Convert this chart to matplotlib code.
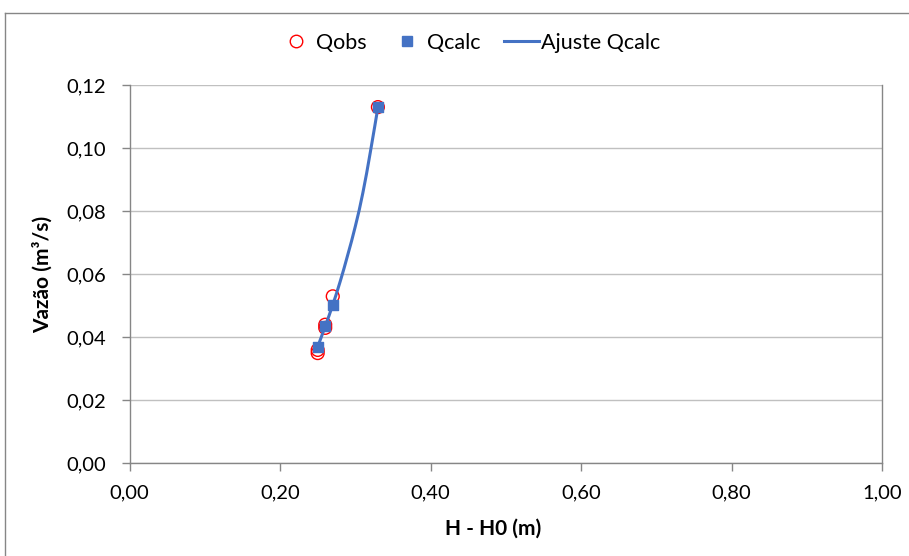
import matplotlib.pyplot as plt
from matplotlib.path import Path
from matplotlib.patches import PathPatch
from matplotlib.lines import Line2D
from matplotlib.ticker import FuncFormatter

plt.rcParams['font.family'] = ['Lato', 'DejaVu Sans']

# leituras de campo
h_obs = [0.25, 0.25, 0.26, 0.26, 0.27, 0.33]
q_obs = [0.035, 0.036, 0.043, 0.044, 0.053, 0.113]
# vazao calculada pela curva-chave
h_calc = [0.25, 0.26, 0.27, 0.33]
q_calc = [0.037, 0.0436, 0.0503, 0.1129]
# curva ajustada aos valores calculados
h_ajuste = [0.25, 0.26, 0.27, 0.28, 0.29, 0.30, 0.31, 0.32, 0.33]
q_ajuste = [0.037, 0.0435, 0.0503, 0.0578, 0.0662, 0.0752, 0.0858, 0.0988, 0.1129]

x_ticks = [0.0, 0.2, 0.4, 0.6, 0.8, 1.0]
y_ticks = [0.0, 0.02, 0.04, 0.06, 0.08, 0.10, 0.12]

azul = '#4472C4'
cinza = '#868686'


def curva_suave(xs, ys):
    # bezier estilo Catmull-Rom passando pelos pontos
    pts = list(zip(xs, ys))
    n = len(pts)
    verts = [pts[0]]
    codes = [Path.MOVETO]
    for i in range(n - 1):
        p0 = pts[i - 1] if i > 0 else pts[i]
        p1 = pts[i]
        p2 = pts[i + 1]
        p3 = pts[i + 2] if i + 2 < n else pts[i + 1]
        c1 = (p1[0] + (p2[0] - p0[0]) / 6, p1[1] + (p2[1] - p0[1]) / 6)
        c2 = (p2[0] - (p3[0] - p1[0]) / 6, p2[1] - (p3[1] - p1[1]) / 6)
        verts += [c1, c2, p2]
        codes += [Path.CURVE4] * 3
    return Path(verts, codes)


fig = plt.figure(figsize=(9.09, 5.56), dpi=100)
ax = fig.add_axes([0.1425, 0.1664, 0.828, 0.6807])

ax.set_xlim(0, 1.0)
ax.set_ylim(0, 0.12)
ax.set_xticks(x_ticks)
ax.set_yticks(y_ticks)
fmt = FuncFormatter(lambda v, p: f'{v:.2f}'.replace('.', ','))
ax.xaxis.set_major_formatter(fmt)
ax.yaxis.set_major_formatter(fmt)
ax.tick_params(labelsize=14.5, length=5.8, width=1, color=cinza)
ax.tick_params(axis='y', pad=11)
ax.tick_params(axis='x', pad=9)
ax.grid(axis='y', color='#c0c0c0', lw=1)
ax.set_axisbelow(True)
for s in ax.spines.values():
    s.set_color(cinza)
    s.set_linewidth(1)
ax.spines['top'].set_visible(False)

ax.scatter(h_obs, q_obs, s=85, facecolors='none', edgecolors='#FF0000',
           linewidths=1, zorder=3)
ax.add_patch(PathPatch(curva_suave(h_ajuste, q_ajuste), fc='none', ec=azul,
                       lw=2.2, zorder=4))
ax.scatter(h_calc, q_calc, s=42, marker='s', color=azul, zorder=5)

ax.set_xlabel('H - H0 (m)', fontsize=15, fontweight='bold')
ax.set_ylabel('Vazão (m³/s)', fontsize=15, fontweight='bold')
ax.xaxis.set_label_coords(0.483, -0.147)
ax.yaxis.set_label_coords(-0.1017, 0.5)

handles = [
    Line2D([], [], ls='none', marker='o', ms=9, mfc='none', mec='#FF0000', mew=1),
    Line2D([], [], ls='none', marker='s', ms=6.5, color=azul),
    Line2D([], [], color=azul, lw=2.2),
]
fig.legend(handles, ['Qobs', 'Qcalc', 'Ajuste Qcalc'], loc='center',
           bbox_to_anchor=(469.5 / 909, 1 - 43 / 556), ncol=3, frameon=False,
           fontsize=15.5, handlelength=1.63, handletextpad=0.1,
           columnspacing=1.1, borderpad=0, borderaxespad=0)

# moldura da area do grafico
fig.add_artist(Line2D([5 / 909, 5 / 909], [1 - 13 / 556, 0], transform=fig.transFigure,
                      color=cinza, lw=1))
fig.add_artist(Line2D([5 / 909, 1], [1 - 13 / 556, 1 - 13 / 556], transform=fig.transFigure,
                      color=cinza, lw=1))

fig.savefig('out.png', dpi=100)
